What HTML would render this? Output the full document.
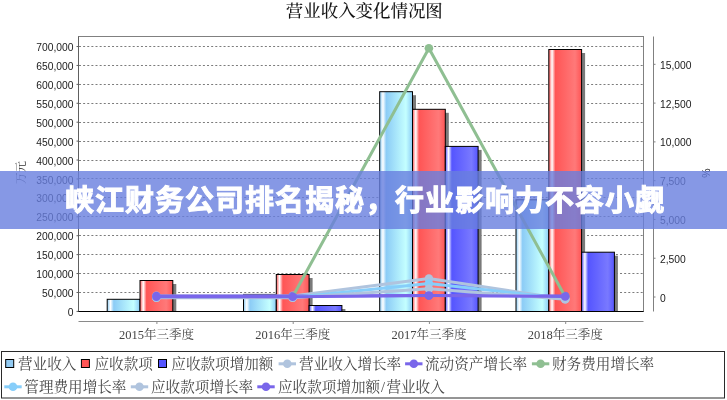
<!DOCTYPE html>
<html lang="zh-CN"><head><meta charset="utf-8"><title>营业收入变化情况图</title>
<style>
html,body{margin:0;padding:0;background:#fff;}
body{width:727px;height:400px;position:relative;overflow:hidden;}
svg text{font-family:"Liberation Sans","Noto Sans CJK SC",sans-serif;}
.ttl{font-family:"Liberation Serif","Noto Serif CJK SC",serif;font-size:17.45px;fill:#151515;font-weight:500;}
.tick{font-size:10.3px;fill:#1a1a1a;}
.cat{font-family:"Liberation Serif","Noto Serif CJK SC",serif !important;font-size:12.5px;fill:#444;}
.axl{font-family:"Liberation Serif","Noto Serif CJK SC",serif !important;font-size:11.5px;fill:#333;}
.leg{font-family:"Liberation Serif","Noto Serif CJK SC",serif !important;font-size:14.6px;fill:#484848;font-weight:400;}
.grid{stroke:#7c7c7c;stroke-width:1;stroke-dasharray:2 2.13;}
.banner{position:absolute;left:0;top:171px;width:727px;height:57.5px;background:rgba(104,126,223,0.8);}
.banner span{position:absolute;left:1.5px;width:727px;top:0;height:57.5px;line-height:60.5px;text-align:center;color:#fff;font-weight:700;font-size:29px;letter-spacing:1px;-webkit-text-stroke:1px #fff;font-family:"Liberation Sans","Noto Sans CJK SC",sans-serif;white-space:nowrap;}
</style></head><body>
<svg width="727" height="400" viewBox="0 0 727 400" style="position:absolute;left:0;top:0">
<defs>
<linearGradient id="g0" x1="0" y1="0" x2="1" y2="0">
<stop offset="0" stop-color="rgb(140,204,246)"/><stop offset="0.1" stop-color="#fff"/><stop offset="0.2" stop-color="rgb(140,204,246)"/><stop offset="0.8" stop-color="rgb(196,255,255)"/><stop offset="1" stop-color="rgb(140,204,246)"/>
</linearGradient>
<linearGradient id="g1" x1="0" y1="0" x2="1" y2="0">
<stop offset="0" stop-color="rgb(255,85,85)"/><stop offset="0.1" stop-color="#fff"/><stop offset="0.2" stop-color="rgb(255,85,85)"/><stop offset="0.8" stop-color="rgb(255,121,121)"/><stop offset="1" stop-color="rgb(255,85,85)"/>
</linearGradient>
<linearGradient id="g2" x1="0" y1="0" x2="1" y2="0">
<stop offset="0" stop-color="rgb(85,85,255)"/><stop offset="0.1" stop-color="#fff"/><stop offset="0.2" stop-color="rgb(85,85,255)"/><stop offset="0.8" stop-color="rgb(121,121,255)"/><stop offset="1" stop-color="rgb(85,85,255)"/>
</linearGradient>
</defs>
<rect width="727" height="400" fill="#fff"/>
<text x="364.3" y="17" text-anchor="middle" class="ttl">营业收入变化情况图</text>
<rect x="78.5" y="36.5" width="565.0" height="275.0" fill="#fff" stroke="#808080" stroke-width="1"/>
<line x1="79.0" x2="643.5" y1="292.50" y2="292.50" class="grid"/>
<line x1="79.0" x2="643.5" y1="273.50" y2="273.50" class="grid"/>
<line x1="79.0" x2="643.5" y1="254.50" y2="254.50" class="grid"/>
<line x1="79.0" x2="643.5" y1="235.50" y2="235.50" class="grid"/>
<line x1="79.0" x2="643.5" y1="216.50" y2="216.50" class="grid"/>
<line x1="79.0" x2="643.5" y1="197.50" y2="197.50" class="grid"/>
<line x1="79.0" x2="643.5" y1="178.50" y2="178.50" class="grid"/>
<line x1="79.0" x2="643.5" y1="160.50" y2="160.50" class="grid"/>
<line x1="79.0" x2="643.5" y1="141.50" y2="141.50" class="grid"/>
<line x1="79.0" x2="643.5" y1="122.50" y2="122.50" class="grid"/>
<line x1="79.0" x2="643.5" y1="103.50" y2="103.50" class="grid"/>
<line x1="79.0" x2="643.5" y1="84.50" y2="84.50" class="grid"/>
<line x1="79.0" x2="643.5" y1="65.50" y2="65.50" class="grid"/>
<line x1="79.0" x2="643.5" y1="46.50" y2="46.50" class="grid"/>
<line x1="78.5" x2="78.5" y1="36.5" y2="311.5" stroke="#606060" stroke-width="1"/>
<line x1="76.5" x2="78.5" y1="311.40" y2="311.40" stroke="#606060" stroke-width="1"/>
<text x="73.5" y="316.00" text-anchor="end" class="tick">0</text>
<line x1="76.5" x2="78.5" y1="292.48" y2="292.48" stroke="#606060" stroke-width="1"/>
<text x="73.5" y="297.08" text-anchor="end" class="tick">50,000</text>
<line x1="76.5" x2="78.5" y1="273.56" y2="273.56" stroke="#606060" stroke-width="1"/>
<text x="73.5" y="278.16" text-anchor="end" class="tick">100,000</text>
<line x1="76.5" x2="78.5" y1="254.64" y2="254.64" stroke="#606060" stroke-width="1"/>
<text x="73.5" y="259.24" text-anchor="end" class="tick">150,000</text>
<line x1="76.5" x2="78.5" y1="235.72" y2="235.72" stroke="#606060" stroke-width="1"/>
<text x="73.5" y="240.32" text-anchor="end" class="tick">200,000</text>
<line x1="76.5" x2="78.5" y1="216.80" y2="216.80" stroke="#606060" stroke-width="1"/>
<text x="73.5" y="221.40" text-anchor="end" class="tick">250,000</text>
<line x1="76.5" x2="78.5" y1="197.88" y2="197.88" stroke="#606060" stroke-width="1"/>
<text x="73.5" y="202.48" text-anchor="end" class="tick">300,000</text>
<line x1="76.5" x2="78.5" y1="178.96" y2="178.96" stroke="#606060" stroke-width="1"/>
<text x="73.5" y="183.56" text-anchor="end" class="tick">350,000</text>
<line x1="76.5" x2="78.5" y1="160.04" y2="160.04" stroke="#606060" stroke-width="1"/>
<text x="73.5" y="164.64" text-anchor="end" class="tick">400,000</text>
<line x1="76.5" x2="78.5" y1="141.12" y2="141.12" stroke="#606060" stroke-width="1"/>
<text x="73.5" y="145.72" text-anchor="end" class="tick">450,000</text>
<line x1="76.5" x2="78.5" y1="122.20" y2="122.20" stroke="#606060" stroke-width="1"/>
<text x="73.5" y="126.80" text-anchor="end" class="tick">500,000</text>
<line x1="76.5" x2="78.5" y1="103.28" y2="103.28" stroke="#606060" stroke-width="1"/>
<text x="73.5" y="107.88" text-anchor="end" class="tick">550,000</text>
<line x1="76.5" x2="78.5" y1="84.36" y2="84.36" stroke="#606060" stroke-width="1"/>
<text x="73.5" y="88.96" text-anchor="end" class="tick">600,000</text>
<line x1="76.5" x2="78.5" y1="65.44" y2="65.44" stroke="#606060" stroke-width="1"/>
<text x="73.5" y="70.04" text-anchor="end" class="tick">650,000</text>
<line x1="76.5" x2="78.5" y1="46.52" y2="46.52" stroke="#606060" stroke-width="1"/>
<text x="73.5" y="51.12" text-anchor="end" class="tick">700,000</text>
<line x1="653.5" x2="653.5" y1="36.5" y2="311.5" stroke="#808080" stroke-width="1"/>
<line x1="653.5" x2="655.5" y1="297.00" y2="297.00" stroke="#808080" stroke-width="1"/>
<text x="660" y="301.60" class="tick">0</text>
<line x1="653.5" x2="655.5" y1="258.22" y2="258.22" stroke="#808080" stroke-width="1"/>
<text x="660" y="262.82" class="tick">2,500</text>
<line x1="653.5" x2="655.5" y1="219.44" y2="219.44" stroke="#808080" stroke-width="1"/>
<text x="660" y="224.04" class="tick">5,000</text>
<line x1="653.5" x2="655.5" y1="180.66" y2="180.66" stroke="#808080" stroke-width="1"/>
<text x="660" y="185.26" class="tick">7,500</text>
<line x1="653.5" x2="655.5" y1="141.88" y2="141.88" stroke="#808080" stroke-width="1"/>
<text x="660" y="146.48" class="tick">10,000</text>
<line x1="653.5" x2="655.5" y1="103.10" y2="103.10" stroke="#808080" stroke-width="1"/>
<text x="660" y="107.70" class="tick">12,500</text>
<line x1="653.5" x2="655.5" y1="64.32" y2="64.32" stroke="#808080" stroke-width="1"/>
<text x="660" y="68.92" class="tick">15,000</text>
<text transform="translate(24.8,172.5) rotate(-90)" text-anchor="middle" class="axl">万元</text>
<text transform="translate(709.5,173) rotate(-90)" text-anchor="middle" class="tick" style="font-size:10.5px;fill:#000">%</text>
<rect x="110.7" y="302.8" width="32.8" height="8.7" fill="#7a7a7a"/>
<rect x="143.5" y="284.0" width="32.8" height="27.5" fill="#7a7a7a"/>
<rect x="247.0" y="297.9" width="32.8" height="13.6" fill="#7a7a7a"/>
<rect x="279.8" y="278.0" width="32.8" height="33.5" fill="#7a7a7a"/>
<rect x="312.6" y="309.0" width="32.8" height="2.5" fill="#7a7a7a"/>
<rect x="383.2" y="95.2" width="32.8" height="216.3" fill="#7a7a7a"/>
<rect x="416.0" y="112.8" width="32.8" height="198.7" fill="#7a7a7a"/>
<rect x="448.8" y="149.9" width="32.8" height="161.6" fill="#7a7a7a"/>
<rect x="519.5" y="203.3" width="32.8" height="108.2" fill="#7a7a7a"/>
<rect x="552.3" y="53.0" width="32.8" height="258.5" fill="#7a7a7a"/>
<rect x="585.1" y="255.7" width="32.8" height="55.8" fill="#7a7a7a"/>
<rect x="107.2" y="299.3" width="32.8" height="12.2" fill="url(#g0)" stroke="#000" stroke-width="1"/>
<rect x="140.0" y="280.5" width="32.8" height="31.0" fill="url(#g1)" stroke="#000" stroke-width="1"/>
<line x1="172.8" x2="205.6" y1="311.5" y2="311.5" stroke="#000" stroke-width="1"/>
<rect x="243.5" y="294.4" width="32.8" height="17.1" fill="url(#g0)" stroke="#000" stroke-width="1"/>
<rect x="276.3" y="274.5" width="32.8" height="37.0" fill="url(#g1)" stroke="#000" stroke-width="1"/>
<rect x="309.1" y="305.5" width="32.8" height="6.0" fill="url(#g2)" stroke="#000" stroke-width="1"/>
<rect x="379.7" y="91.7" width="32.8" height="219.8" fill="url(#g0)" stroke="#000" stroke-width="1"/>
<rect x="412.5" y="109.3" width="32.8" height="202.2" fill="url(#g1)" stroke="#000" stroke-width="1"/>
<rect x="445.3" y="146.4" width="32.8" height="165.1" fill="url(#g2)" stroke="#000" stroke-width="1"/>
<rect x="516.0" y="199.8" width="32.8" height="111.7" fill="url(#g0)" stroke="#000" stroke-width="1"/>
<rect x="548.8" y="49.5" width="32.8" height="262.0" fill="url(#g1)" stroke="#000" stroke-width="1"/>
<rect x="581.6" y="252.2" width="32.8" height="59.3" fill="url(#g2)" stroke="#000" stroke-width="1"/>
<line x1="78.5" x2="643.5" y1="311.5" y2="311.5" stroke="#000" stroke-width="1"/>
<line x1="78.5" x2="643.5" y1="321.5" y2="321.5" stroke="#8a8a8a" stroke-width="1"/>
<line x1="156.9" x2="156.9" y1="321.5" y2="324" stroke="#8a8a8a" stroke-width="1"/>
<text x="156.4" y="339.4" text-anchor="middle" class="cat">2015年三季度</text>
<line x1="293.2" x2="293.2" y1="321.5" y2="324" stroke="#8a8a8a" stroke-width="1"/>
<text x="292.7" y="339.4" text-anchor="middle" class="cat">2016年三季度</text>
<line x1="429.4" x2="429.4" y1="321.5" y2="324" stroke="#8a8a8a" stroke-width="1"/>
<text x="428.9" y="339.4" text-anchor="middle" class="cat">2017年三季度</text>
<line x1="565.7" x2="565.7" y1="321.5" y2="324" stroke="#8a8a8a" stroke-width="1"/>
<text x="565.2" y="339.4" text-anchor="middle" class="cat">2018年三季度</text>
<polyline points="156.4,295.9 292.7,295.9 428.9,278.5 565.2,299.2" fill="none" stroke="rgb(176,196,222)" stroke-width="3" stroke-linejoin="round" stroke-linecap="round"/>
<circle cx="156.4" cy="295.9" r="4.3" fill="rgb(176,196,222)"/>
<circle cx="292.7" cy="295.9" r="4.3" fill="rgb(176,196,222)"/>
<circle cx="428.9" cy="278.5" r="4.3" fill="rgb(176,196,222)"/>
<circle cx="565.2" cy="299.2" r="4.3" fill="rgb(176,196,222)"/>
<polyline points="156.4,296.1 292.7,296.1 428.9,295.4 565.2,296.1" fill="none" stroke="rgb(121,102,234)" stroke-width="3" stroke-linejoin="round" stroke-linecap="round"/>
<circle cx="156.4" cy="296.1" r="4.3" fill="rgb(121,102,234)"/>
<circle cx="292.7" cy="296.1" r="4.3" fill="rgb(121,102,234)"/>
<circle cx="428.9" cy="295.4" r="4.3" fill="rgb(121,102,234)"/>
<circle cx="565.2" cy="296.1" r="4.3" fill="rgb(121,102,234)"/>
<polyline points="292.7,296.7 428.9,48.3 565.2,296.7" fill="none" stroke="rgb(143,191,146)" stroke-width="3" stroke-linejoin="round" stroke-linecap="round"/>
<circle cx="292.7" cy="296.7" r="4.3" fill="rgb(143,191,146)"/>
<circle cx="428.9" cy="48.3" r="4.3" fill="rgb(143,191,146)"/>
<circle cx="565.2" cy="296.7" r="4.3" fill="rgb(143,191,146)"/>
<polyline points="156.4,297.6 292.7,297.6 428.9,283.5 565.2,298.7" fill="none" stroke="rgb(135,206,250)" stroke-width="3" stroke-linejoin="round" stroke-linecap="round"/>
<circle cx="156.4" cy="297.6" r="4.3" fill="rgb(135,206,250)"/>
<circle cx="292.7" cy="297.6" r="4.3" fill="rgb(135,206,250)"/>
<circle cx="428.9" cy="283.5" r="4.3" fill="rgb(135,206,250)"/>
<circle cx="565.2" cy="298.7" r="4.3" fill="rgb(135,206,250)"/>
<polyline points="156.4,297.7 292.7,297.7 428.9,288.7 565.2,299.2" fill="none" stroke="rgb(176,196,222)" stroke-width="3" stroke-linejoin="round" stroke-linecap="round"/>
<circle cx="156.4" cy="297.7" r="4.3" fill="rgb(176,196,222)"/>
<circle cx="292.7" cy="297.7" r="4.3" fill="rgb(176,196,222)"/>
<circle cx="428.9" cy="288.7" r="4.3" fill="rgb(176,196,222)"/>
<circle cx="565.2" cy="299.2" r="4.3" fill="rgb(176,196,222)"/>
<polyline points="156.4,296.8 292.7,296.8 428.9,295.5 565.2,296.5" fill="none" stroke="rgb(121,102,234)" stroke-width="3" stroke-linejoin="round" stroke-linecap="round"/>
<circle cx="156.4" cy="296.8" r="4.3" fill="rgb(121,102,234)"/>
<circle cx="292.7" cy="296.8" r="4.3" fill="rgb(121,102,234)"/>
<circle cx="428.9" cy="295.5" r="4.3" fill="rgb(121,102,234)"/>
<circle cx="565.2" cy="296.5" r="4.3" fill="rgb(121,102,234)"/>
<rect x="1.5" y="351.5" width="723" height="46.5" fill="#fff" stroke="#2a2a2a" stroke-width="1"/>
<rect x="5.7" y="359.5" width="8" height="8" fill="rgb(146,202,242)" stroke="#000" stroke-width="1"/>
<text x="18.0" y="369.2" class="leg">营业收入</text>
<rect x="81.4" y="359.5" width="8" height="8" fill="rgb(255,85,85)" stroke="#000" stroke-width="1"/>
<text x="94.5" y="369.2" class="leg">应收款项</text>
<rect x="158.5" y="359.5" width="8" height="8" fill="rgb(85,85,255)" stroke="#000" stroke-width="1"/>
<text x="171.3" y="369.2" class="leg">应收款项增加额</text>
<line x1="278.6" x2="296.0" y1="363.8" y2="363.8" stroke="rgb(176,196,222)" stroke-width="3"/>
<circle cx="287.3" cy="363.8" r="4.3" fill="rgb(176,196,222)"/>
<text x="299.0" y="369.2" class="leg">营业收入增长率</text>
<line x1="405.1" x2="422.5" y1="363.8" y2="363.8" stroke="rgb(121,102,234)" stroke-width="3"/>
<circle cx="413.8" cy="363.8" r="4.3" fill="rgb(121,102,234)"/>
<text x="425.0" y="369.2" class="leg">流动资产增长率</text>
<line x1="531.9" x2="549.3" y1="363.8" y2="363.8" stroke="rgb(143,191,146)" stroke-width="3"/>
<circle cx="540.6" cy="363.8" r="4.3" fill="rgb(143,191,146)"/>
<text x="552.0" y="369.2" class="leg">财务费用增长率</text>
<line x1="4.3" x2="21.7" y1="386.8" y2="386.8" stroke="rgb(135,206,250)" stroke-width="3"/>
<circle cx="13.0" cy="386.8" r="4.3" fill="rgb(135,206,250)"/>
<text x="24.3" y="392.4" class="leg">管理费用增长率</text>
<line x1="130.8" x2="148.2" y1="386.8" y2="386.8" stroke="rgb(176,196,222)" stroke-width="3"/>
<circle cx="139.5" cy="386.8" r="4.3" fill="rgb(176,196,222)"/>
<text x="151.0" y="392.4" class="leg">应收款项增长率</text>
<line x1="257.3" x2="274.7" y1="386.8" y2="386.8" stroke="rgb(121,102,234)" stroke-width="3"/>
<circle cx="266.0" cy="386.8" r="4.3" fill="rgb(121,102,234)"/>
<text x="278.0" y="392.4" class="leg">应收款项增加额<tspan dx="0.8">/</tspan><tspan dx="1.4">营业收入</tspan></text>
</svg>
<div class="banner"><span>峡江财务公司排名揭秘，行业影响力不容小觑</span></div>
</body></html>
